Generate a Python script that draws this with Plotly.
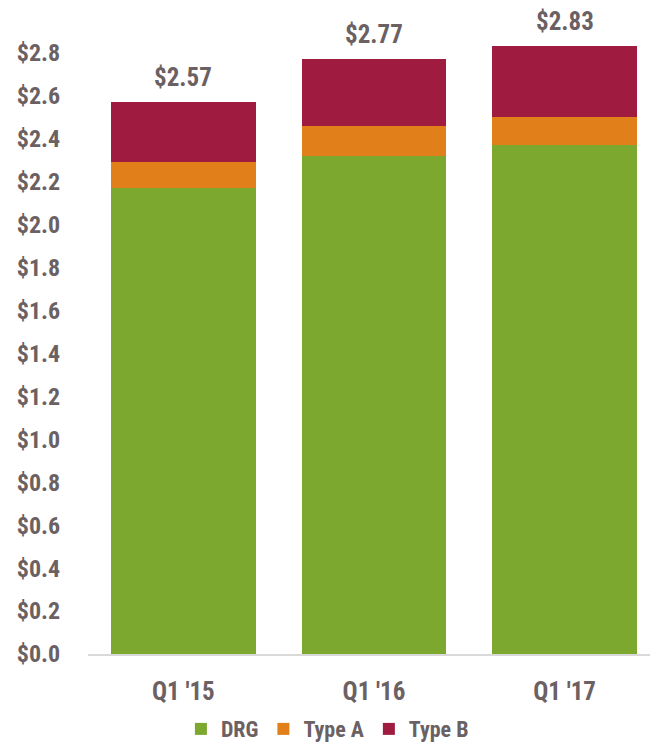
import plotly.graph_objects as go

categories = ["Q1 '15", "Q1 '16", "Q1 '17"]
drg = [2.17, 2.32, 2.37]
type_a = [0.12, 0.14, 0.13]
type_b = [0.28, 0.31, 0.33]
totals = [round(a + b + c, 2) for a, b, c in zip(drg, type_a, type_b)]
y_ticks = [round(i * 0.2, 1) for i in range(15)]
y_tick_labels = [f"${v:.1f}" for v in y_ticks]

FONT = "Roboto Condensed, DejaVu Sans Condensed, sans-serif"
TXT = "#6b6163"
CLEAR = "rgba(0,0,0,0)"

fig = go.Figure()
fig.add_bar(x=categories, y=drg, name="DRG", marker=dict(color="#7ca82f", line=dict(width=0)))
fig.add_bar(x=categories, y=type_a, name="Type A", marker=dict(color="#e1801b", line=dict(width=0)))
fig.add_bar(x=categories, y=type_b, name="Type B", marker=dict(color="#9f1c40", line=dict(width=0)))

for c, t in zip(categories, totals):
    fig.add_annotation(x=c, y=t, text=f"${t:.2f}", showarrow=False, yanchor="bottom", yshift=8,
                       font=dict(family=FONT, size=25, color=TXT, weight="bold"))

fig.update_layout(
    barmode="stack",
    bargap=0.24,
    width=650, height=736,
    margin=dict(l=80, r=0, t=2, b=90, autoexpand=False),
    plot_bgcolor="white", paper_bgcolor="white",
    font=dict(family=FONT, color=TXT, size=23, weight="bold"),
    showlegend=True,
    legend=dict(orientation="h", x=0.42, xanchor="center", y=-0.084, yanchor="top",
                font=dict(family=FONT, size=22, color=TXT, weight="bold"), traceorder="normal"),
    xaxis=dict(range=[-0.5, 2.49], showline=True, linecolor="#d9d9d9", linewidth=1.5,
               ticks="outside", ticklen=14, tickcolor=CLEAR,
               showgrid=False, automargin=False,
               tickfont=dict(family=FONT, size=25, color=TXT, weight="bold")),
    yaxis=dict(range=[0, 3.0], tickvals=y_ticks, ticktext=y_tick_labels,
               showgrid=False, zeroline=False, showline=False,
               ticks="outside", ticklen=22, tickcolor=CLEAR, automargin=False,
               tickfont=dict(family=FONT, size=24, color=TXT, weight="bold")),
)

fig.write_html("out.html")
